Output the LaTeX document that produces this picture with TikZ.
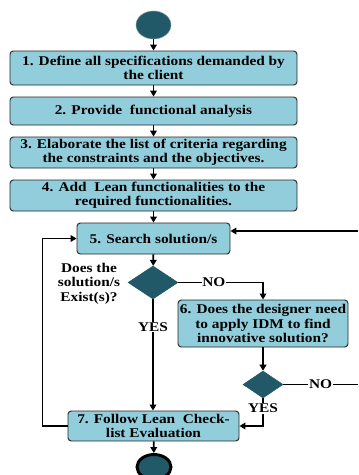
\documentclass[tikz,border=0pt]{standalone}
\usepackage{fontspec}
\setmainfont{Liberation Serif}[FakeStretch=1.15]
\usetikzlibrary{shapes.geometric,arrows.meta}
\definecolor{boxfill}{HTML}{92CDDC}
\definecolor{darkteal}{HTML}{215968}

\begin{document}
\begin{tikzpicture}[x=0.75pt,y=-0.75pt,
  txt/.style={font=\bfseries\fontsize{10}{10.8}\selectfont, align=center},
  stepbox/.style={txt, draw=black!85, line width=0.7pt, fill=boxfill,
    rounded corners=2.5pt, inner sep=0pt},
  decision/.style={diamond, draw=darkteal, fill=darkteal, inner sep=0pt},
  terminal/.style={ellipse, fill=darkteal, inner sep=0pt},
  flow/.style={line width=1.4pt, -{Triangle[length=4.5pt,width=5pt]}},
  plain/.style={line width=1.4pt},
  lbl/.style={txt, fill=white, inner sep=0.6pt}
]
\useasboundingbox (0,0) rectangle (358,475);

% start and end points
\node[terminal, draw=darkteal!60, minimum width=35*0.75pt, minimum height=28*0.75pt] (start) at (153.5,25) {};
\node[terminal, draw=black, line width=2.2pt, minimum width=34*0.75pt, minimum height=25*0.75pt] (stop) at (154,467) {};

% process steps
\node[stepbox, minimum width=287*0.75pt, minimum height=34*0.75pt] (s1) at (153.5,68)
  {1. Define all specifications demanded by\\the client};
\node[stepbox, minimum width=287*0.75pt, minimum height=28*0.75pt] (s2) at (153.5,111)
  {2. Provide\ \ functional analysis};
\node[stepbox, minimum width=287*0.75pt, minimum height=31*0.75pt] (s3) at (153.5,152.5)
  {3. Elaborate the list of criteria regarding\\the constraints and the objectives.};
\node[stepbox, minimum width=287*0.75pt, minimum height=31*0.75pt] (s4) at (153.5,195.5)
  {4. Add\ \ Lean functionalities to the\\required functionalities.};
\node[stepbox, minimum width=153*0.75pt, minimum height=31*0.75pt] (s5) at (153.5,238.5)
  {5. Search solution/s};
\node[stepbox, minimum width=170*0.75pt, minimum height=47*0.75pt] (s6) at (263,323.5)
  {6. Does the designer need\\to apply IDM to find\\innovative solution?};
\node[stepbox, minimum width=171*0.75pt, minimum height=30*0.75pt] (s7) at (153.5,426)
  {7. Follow Lean\ \ Check-\\list Evaluation};

% decisions
\node[decision, minimum width=50*0.75pt, minimum height=33*0.75pt] (d1) at (153,282.5) {};
\node[decision, minimum width=40*0.75pt, minimum height=27*0.75pt] (d2) at (263,384.5) {};
\node[txt] (q1) at (89,283.5) {Does the\\solution/s\\Exist(s)?};

% loose ends leaving the frame on the right
\coordinate (outNo) at (358,384.5);
\coordinate (inBack) at (358,231);

% connectors
\draw[flow] (start) -- (s1);
\draw[flow] (s1) -- (s2);
\draw[flow] (s2) -- (s3);
\draw[flow] (s3) -- (s4);
\draw[flow] (s4) -- (s5);
\draw[flow] (s5) -- (d1);
\draw[flow] (d1) -- node[lbl, pos=0.25] {YES} (d1 |- s7.north);
\draw[flow] (d1.east) -| node[lbl, pos=0.21] {NO} (s6.north);
\draw[flow] (s6) -- (d2);
\draw[flow] (d2.south) |- node[lbl, pos=0.18] {YES} (s7.east);
\draw[plain] (d2.east) -- node[lbl, pos=0.5] {NO} (outNo);
\draw[flow] (inBack) -- (inBack -| s5.east);
\draw[flow] (s7.west) -- ++(-25,0) |- (s5.west);
\draw[flow] (s7) -- (stop);
\end{tikzpicture}
\end{document}
